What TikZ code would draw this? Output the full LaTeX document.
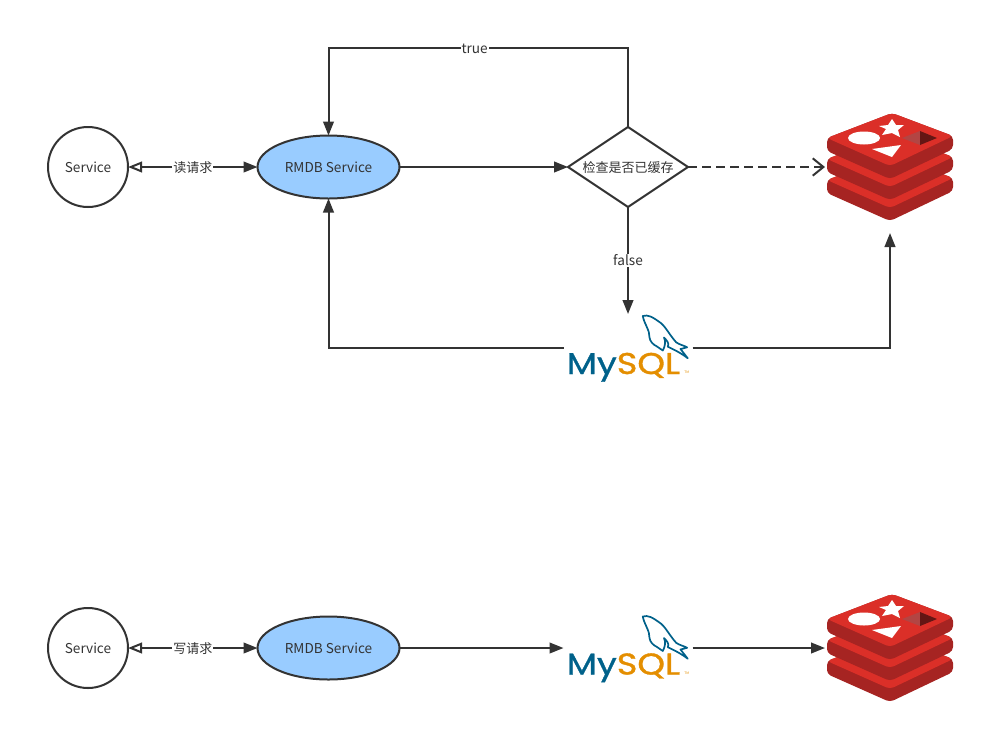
\documentclass[tikz,border=0pt]{standalone}
\usepackage{fontspec}
\setmainfont{Noto Sans CJK SC}
\newfontfamily\logofont[FakeStretch=1.17,FakeBold=1.2]{Poppins}
\usetikzlibrary{shapes.geometric,arrows.meta}
\newlength{\pxu}
\setlength{\pxu}{0.75pt}
\definecolor{linegray}{HTML}{333333}
\definecolor{rmdbblue}{HTML}{99CCFF}
\definecolor{redisred}{HTML}{DB2F28}
\definecolor{redisdark}{HTML}{A62422}
\definecolor{mysqlblue}{HTML}{00618A}
\definecolor{mysqlorange}{HTML}{E48E00}
\tikzset{
  txt/.style={text height=8pt,text depth=0pt},
  cn/.style={font=\fontsize{9.75}{12}\selectfont},
  service/.style={draw=linegray,circle,txt,line width=2\pxu,minimum size=80\pxu,inner sep=0,outer sep=0},
  rmdb/.style={draw=linegray,fill=rmdbblue,ellipse,txt,line width=2\pxu,minimum width=142\pxu,minimum height=63\pxu,inner sep=0,outer sep=0},
  check/.style={draw=linegray,diamond,txt,cn,aspect=1.5,line width=2\pxu,minimum width=120\pxu,minimum height=80\pxu,inner sep=-2pt,outer sep=0},
  iconbox/.style={rectangle,inner sep=0,outer sep=0},
  flow/.style={draw=linegray,line width=2\pxu,-{Triangle[length=10.5pt,width=8pt]}},
  twoway/.style={draw=linegray,line width=2\pxu,arrows={{Triangle[open,length=10.5pt,width=8pt]}-{Triangle[length=10.5pt,width=8pt]}}},
  cached/.style={draw=linegray,line width=2\pxu,dash pattern=on 9\pxu off 5\pxu,-{Straight Barb[length=8pt,width=13pt]}},
  lbl/.style={fill=white,txt,inner sep=1\pxu},
  redislogo/.pic={
    \foreach \dy in {42,21,0}{
      \fill[redisdark,rounded corners=4\pxu] (2,-54+\dy)--(63,-31+\dy)--(63,-18+\dy)--(0,12+\dy)--(-63,-16+\dy)--(-63,-29+\dy)--cycle;
      \fill[redisred,rounded corners=4\pxu] (2,-54+\dy)--(63,-31+\dy)--(0,-1+\dy)--(-63,-29+\dy)--cycle;
    }
    \fill[white] (2,-48)--(6,-42)--(14,-42)--(8,-37)--(10,-30)--(2,-34)--(-8,-32)--(-4,-38)--(-11,-41)--(-2,-42)--cycle;
    \fill[white] (-26,-29) ellipse [x radius=16,y radius=6.5];
    \fill[white] (-18,-18)--(11,-22)--(2,-10)--cycle;
    \fill[redisdark!85!white] (12,-29)--(30,-36)--(30,-22)--cycle;
    \fill[redisdark!60!black] (30,-36)--(47,-29)--(30,-22)--cycle;
  },
  mysqllogo/.pic={
    \draw[mysqlblue,fill=white,line width=1.7\pxu,line join=round]
      (14.8,-31.5)..controls (20,-33) and (24,-31)..(33.2,-24.2)
      ..controls (38,-20) and (42,-12)..(48.2,-5.2)
      ..controls (51,-3) and (56,-2)..(59.2,-0.2)
      --(52.5,1.5)--(59.8,10.8)
      ..controls (55,7) and (50,4)..(39.8,-0.8)
      ..controls (42,-4) and (38,-8)..(36,-10)
      ..controls (38,-6) and (37,-1)..(34.8,3)
      --(29,-1)
      ..controls (25,-3) and (22,-6)..(21.5,-10)
      ..controls (22,-17) and (16,-24)..(14.8,-31.5)--cycle;
    \node[anchor=base,inner sep=0] (wordmark) at (-4.5,26.5) {\logofont\fontsize{22.5}{23}\selectfont\textcolor{mysqlblue}{My}\textcolor{mysqlorange}{SQL}};
    \node[anchor=base west,inner sep=0,text=mysqlorange] (trademark) at (56,26) {\fontsize{2.5}{3}\selectfont TM};
  },
}
\begin{document}
\begin{tikzpicture}[x=\pxu,y=-\pxu,text=linegray,font=\fontsize{10.2}{12}\selectfont]
  \useasboundingbox (0,0) rectangle (986,744);
  \node[service] (svcread) at (88,167) {Service};
  \node[rmdb] (rmdbread) at (328.5,167) {RMDB Service};
  \node[check] (cachecheck) at (628,167) {检查是否已缓存};
  \node[iconbox,minimum width=130\pxu,minimum height=132\pxu] (redisread) at (890,167) {};
  \node[iconbox,minimum width=129\pxu,minimum height=67\pxu] (mysqlread) at (628,347.5) {};
  \pic at (redisread) {redislogo};
  \pic at (mysqlread) {mysqllogo};
  \coordinate (trueturn) at (628,48);
  \draw[twoway] (svcread) -- node[lbl,cn] (readlbl) {读请求} (rmdbread);
  \draw[flow] (rmdbread) -- (cachecheck);
  \draw[cached] (cachecheck) -- (redisread);
  \draw[flow] (cachecheck.north) -- (trueturn) -| node[lbl,pos=0.256] (truelbl) {true} (rmdbread.north);
  \draw[flow] (cachecheck.south) -- node[lbl,pos=0.5] (falselbl) {false} (mysqlread.north);
  \draw[flow] (mysqlread.west) -| (rmdbread.south);
  \draw[flow] (mysqlread.east) -| (redisread.south);
  \node[service] (svcwrite) at (88,648) {Service};
  \node[rmdb] (rmdbwrite) at (328.5,648) {RMDB Service};
  \node[iconbox,minimum width=129\pxu,minimum height=67\pxu] (mysqlwrite) at (628,648) {};
  \node[iconbox,minimum width=130\pxu,minimum height=132\pxu] (rediswrite) at (890,648) {};
  \pic at (mysqlwrite) {mysqllogo};
  \pic at (rediswrite) {redislogo};
  \draw[twoway] (svcwrite) -- node[lbl,cn] (writelbl) {写请求} (rmdbwrite);
  \draw[flow] (rmdbwrite) -- (mysqlwrite);
  \draw[flow] (mysqlwrite) -- (rediswrite);
\end{tikzpicture}
\end{document}
